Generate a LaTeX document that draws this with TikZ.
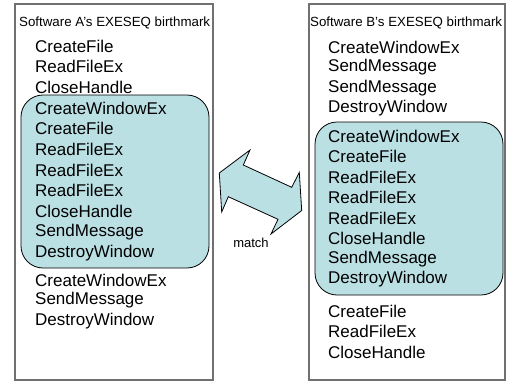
\documentclass[tikz,border=0pt]{standalone}
\usepackage{fontspec}
\setmainfont{Liberation Sans}
\usepackage{tikz}
\usetikzlibrary{positioning}
\definecolor{matchcyan}{RGB}{187, 224, 228}
\definecolor{framegray}{RGB}{112, 112, 112}

\begin{document}
\begin{tikzpicture}[x=1pt, y=-1pt,
    item/.style={anchor=west, inner sep=0pt, font=\fontsize{17}{20}\selectfont},
    heading/.style={anchor=west, inner sep=0pt, font=\fontsize{13.3}{15}\selectfont}]
    \useasboundingbox (0,0) rectangle (507,381);

    % software A
    \draw[draw=framegray, line width=1.2pt] (15,4) rectangle (213,380);
    \draw[fill=matchcyan, line width=0.8pt, rounded corners=22pt] (21,95) rectangle (209,268);
    \node[heading] (titleA) at (19,23) {Software A’s EXESEQ birthmark};
    \foreach \txt [count=\i] in {CreateFile, ReadFileEx, CloseHandle}
        \node[item] (aTop\i) at (35, {46+(\i-1)*20.5}) {\txt};
    \foreach \txt [count=\i] in {CreateWindowEx, CreateFile, ReadFileEx, ReadFileEx, ReadFileEx, CloseHandle, SendMessage, DestroyWindow}
        \node[item] (aIn\i) at (35, {108+(\i-1)*20.7}) {\txt};
    \foreach \txt [count=\i] in {CreateWindowEx, SendMessage, DestroyWindow}
        \node[item] (aBot\i) at (35, {280+(\i-1)*20.5}) {\txt};

    % software B
    \draw[draw=framegray, line width=1.2pt] (309,4) rectangle (505,380);
    \draw[fill=matchcyan, line width=0.8pt, rounded corners=22pt] (315,122) rectangle (503,295);
    \node[heading] (titleB) at (310,23) {Software B’s EXESEQ birthmark};
    \foreach \txt [count=\i] in {CreateWindowEx, SendMessage, SendMessage, DestroyWindow}
        \node[item] (bTop\i) at (328, {47+(\i-1)*20.5}) {\txt};
    \foreach \txt [count=\i] in {CreateWindowEx, CreateFile, ReadFileEx, ReadFileEx, ReadFileEx, CloseHandle, SendMessage, DestroyWindow}
        \node[item] (bIn\i) at (328, {136+(\i-1)*20.5}) {\txt};
    \foreach \txt [count=\i] in {CreateFile, ReadFileEx, CloseHandle}
        \node[item] (bBot\i) at (328, {311+(\i-1)*20.5}) {\txt};

    % match arrow
    \draw[fill=matchcyan, line width=0.8pt] (219.3,173) -- (250,150) -- (243.3,165) -- (291.7,187.3)
        -- (299.3,172.5) -- (301.7,210.5) -- (271,234) -- (278,219.3) -- (228.3,196.7) -- (221.7,212) -- cycle;
    \node[inner sep=0pt, font=\fontsize{13}{15}\selectfont] (matchlbl) at (251,243) {match};
\end{tikzpicture}
\end{document}
